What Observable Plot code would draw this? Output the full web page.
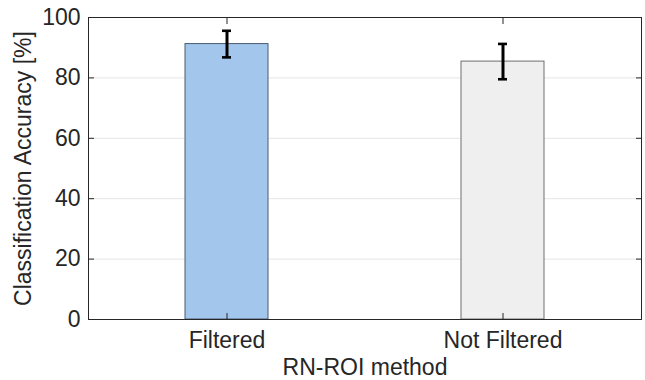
<!DOCTYPE html>
<html><head><meta charset="utf-8">
<script src="https://cdn.jsdelivr.net/npm/d3@7"></script>
<script src="https://cdn.jsdelivr.net/npm/@observablehq/plot@0.6"></script>
<style>body{margin:0;background:#fff} svg{display:block}</style>
</head><body><div id="chart"></div>
<script>
const categories = ["Filtered", "Not Filtered"];
const accuracy = [91.2, 85.4];
const errorHalf = [4.4, 5.85];
const fills = ["#a3c7ec", "#efefef"];
const strokes = ["#4a5a72", "#6e6e6e"];
const yTicks = [0, 20, 40, 60, 80, 100];
const gridTicks = [20, 40, 60, 80];
const xLabel = "RN-ROI method";
const yLabel = "Classification Accuracy [%]";

const data = categories.map((c, i) => ({
  method: c, acc: accuracy[i],
  lo: accuracy[i] - errorHalf[i], hi: accuracy[i] + errorHalf[i],
  fill: fills[i], stroke: strokes[i]
}));

const ink = "#262626";
const plot = Plot.plot({
  width: 645, height: 380,
  marginTop: 17, marginBottom: 61, marginLeft: 88, marginRight: 4,
  style: {fontFamily: "'Liberation Sans', Arial, sans-serif", fontSize: "23px", color: ink, background: "#fff"},
  x: {type: "band", domain: categories, paddingInner: 0.7, paddingOuter: 0.35},
  y: {domain: [0, 100]},
  color: {type: "identity"},
  marks: [
    Plot.gridY(gridTicks, {stroke: "#e5e5e5", strokeOpacity: 1}),
    Plot.barY(data, {x: "method", y: "acc", fill: "fill", stroke: "stroke", strokeWidth: 1}),
    Plot.ruleX(data, {x: "method", y1: "lo", y2: "hi", stroke: "#000", strokeWidth: 3}),
    Plot.tickY(data, {x: "method", y: "lo", stroke: "#000", strokeWidth: 2.6, insetLeft: 37, insetRight: 37}),
    Plot.tickY(data, {x: "method", y: "hi", stroke: "#000", strokeWidth: 2.6, insetLeft: 37, insetRight: 37}),
    Plot.axisY({ticks: yTicks, tickSize: -6, tickPadding: 14, label: yLabel, labelAnchor: "center", labelArrow: "none", labelOffset: 74}),
    Plot.axisY({anchor: "right", ticks: yTicks, tickSize: -6, text: null, label: null}),
    Plot.axisX({anchor: "bottom", tickSize: -6, tickPadding: 18, label: xLabel, labelAnchor: "center", labelArrow: "none", labelOffset: 55}),
    Plot.axisX({anchor: "top", tickSize: -6, text: null, label: null}),
    Plot.frame({stroke: ink})
  ]
});
document.getElementById("chart").appendChild(plot);
</script>
</body></html>
